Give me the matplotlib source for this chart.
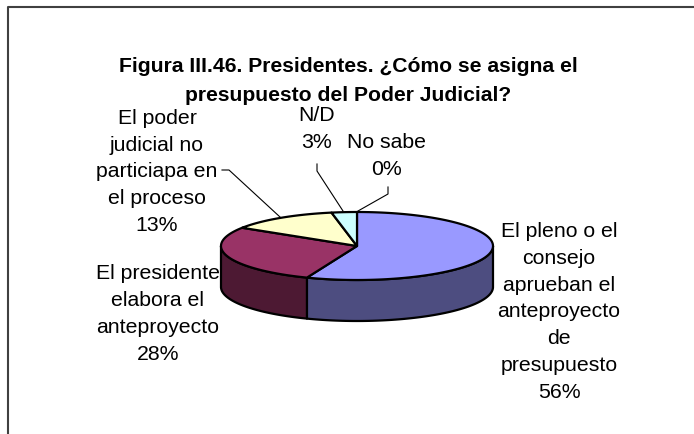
import matplotlib
matplotlib.use("Agg")
import matplotlib.pyplot as plt
from matplotlib.patches import Polygon
import numpy as np

plt.rcParams['font.family'] = ['Liberation Sans', 'DejaVu Sans']

# ---- data ----
titulo = "Figura III.46. Presidentes. ¿Cómo se asigna el\npresupuesto del Poder Judicial?"
etiquetas = ["El pleno o el\nconsejo\naprueban el\nanteproyecto\nde\npresupuesto",
             "El presidente\nelabora el\nanteproyecto",
             "El poder\njudicial no\nparticiapa en\nel proceso",
             "N/D",
             "No sabe"]
valores = [56, 28, 13, 3, 0]

colores_sup = ['#9999FF', '#993366', '#FFFFCC', '#CCFFFF', '#FFFFFF']
colores_lado = ['#4D4D80', '#4D1933', '#808066', '#668080', '#808080']

# ---- geometria del pastel (pixeles) ----
cx, cy = 357, 247
rx, ry = 136, 34
prof = 41

fig = plt.figure(figsize=(6.94, 4.35), dpi=100)
ax = fig.add_axes([0, 0, 1, 1])
ax.set_xlim(0, 694)
ax.set_ylim(435, 0)
ax.axis('off')

# marco
ax.plot([8, 8, 694], [435, 8, 8], color='#404040', lw=1.5, solid_capstyle='butt')


def punto(t, dy=0):
    t = np.radians(t)
    return cx + rx * np.cos(t), cy - ry * np.sin(t) + dy


total = float(sum(valores))
angs = [90.0]
for v in valores:
    angs.append(angs[-1] - 360.0 * v / total)

# paredes laterales
for i in range(len(valores)):
    hi, lo = angs[i], angs[i + 1]
    for k in (-1, 0, 1):
        a, b = max(lo, -180 + 360 * k), min(hi, 360 * k)
        if b - a <= 0:
            continue
        t = np.linspace(a, b, 80)
        arriba = [punto(x) for x in t]
        abajo = [punto(x, prof) for x in t[::-1]]
        ax.add_patch(Polygon(arriba + abajo, closed=True, fc=colores_lado[i],
                             ec='black', lw=1.6, joinstyle='round'))

# caras superiores
for i in range(len(valores)):
    hi, lo = angs[i], angs[i + 1]
    if hi - lo <= 0:
        continue
    t = np.linspace(lo, hi, 120)
    pts = [(cx, cy)] + [punto(x) for x in t]
    ax.add_patch(Polygon(pts, closed=True, fc=colores_sup[i], ec='black',
                         lw=1.6, joinstyle='round'))

ax.text(348, 81, titulo, ha='center', va='center', fontsize=15.2,
        fontweight='bold', linespacing=1.7)

pos = [(559, 312), (158, 314), (157, 172), (317, 129), (387, 156)]
for i, (x, y) in enumerate(pos):
    ax.text(x, y, etiquetas[i] + "\n%d%%" % valores[i], ha='center', va='center',
            fontsize=15.3, linespacing=1.52, color='black')

# lineas guia
ax.plot([222, 229, 280], [171, 171, 218], color='black', lw=0.8)
ax.plot([317, 317, 343], [165, 172, 212], color='black', lw=0.8)
ax.plot([388, 388, 358], [188, 195, 212], color='black', lw=0.8)

fig.savefig('out.png', dpi=100)
